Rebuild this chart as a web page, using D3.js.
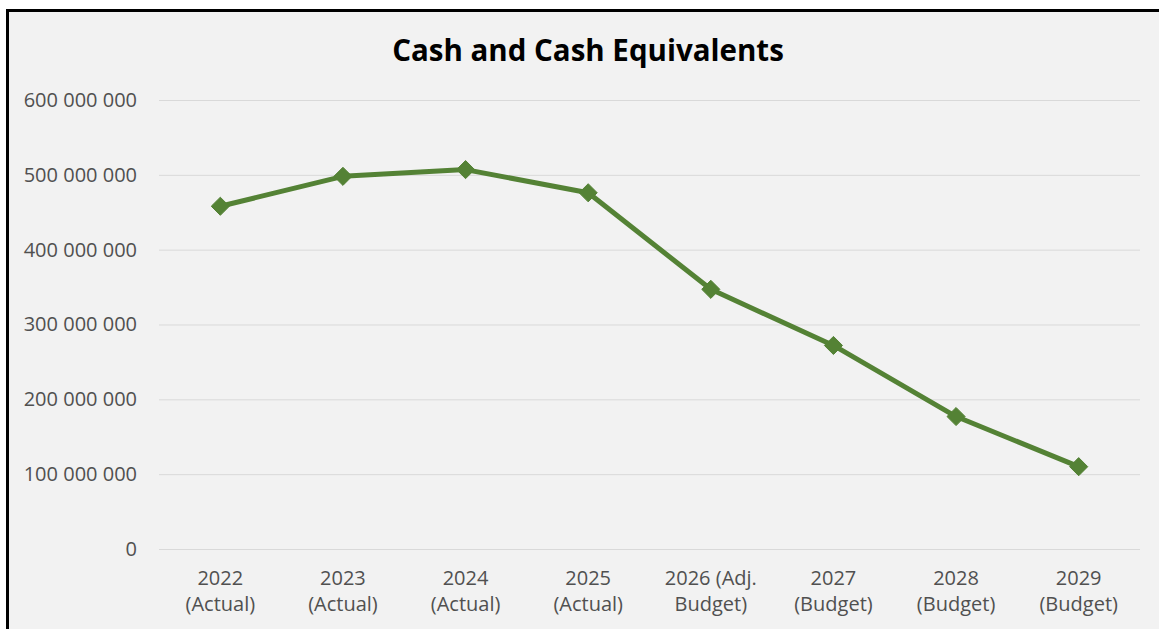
<!DOCTYPE html>
<html>
<head>
<meta charset="utf-8">
<script src="https://cdn.jsdelivr.net/npm/d3@7"></script>
<style>
  html, body { margin: 0; padding: 0; background: #ffffff; }
  svg { display: block; }
</style>
</head>
<body>
<svg id="chart" width="1159" height="629"></svg>
<script>
// Year labels (two lines each) and the cash position at year end
const categories = [
  ["2022", "(Actual)"],
  ["2023", "(Actual)"],
  ["2024", "(Actual)"],
  ["2025", "(Actual)"],
  ["2026 (Adj.", "Budget)"],
  ["2027", "(Budget)"],
  ["2028", "(Budget)"],
  ["2029", "(Budget)"]
];
const cashValues = [458000000, 498000000, 507000000, 476000000, 347000000, 272000000, 177000000, 110000000];
const yTicks = [0, 100000000, 200000000, 300000000, 400000000, 500000000, 600000000];
const title = "Cash and Cash Equivalents";

const svg = d3.select("#chart");
const W = 1159, H = 629;
const font = "'Open Sans', 'Liberation Sans', sans-serif";
const labelColor = "#505050";

// chart area with frame
svg.append("rect").attr("x", 7.5).attr("y", 10.5).attr("width", W).attr("height", H)
  .attr("fill", "#f2f2f2").attr("stroke", "#000").attr("stroke-width", 3);

const plot = { left: 159, right: 1140, top: 100, bottom: 549 };
const ids = categories.map((c, i) => i);

const x = d3.scaleBand().domain(ids).range([plot.left, plot.right]);
const y = d3.scaleLinear().domain([0, 600000000]).range([plot.bottom, plot.top]);

const fmt = v => d3.format(",")(v).replace(/,/g, " ");

// horizontal gridlines + value labels
const yAxis = d3.axisLeft(y).tickValues(yTicks).tickSize(-(plot.right - plot.left)).tickFormat(fmt).tickPadding(22);
const gy = svg.append("g").attr("transform", `translate(${plot.left},0)`).call(yAxis);
gy.select(".domain").remove();
gy.selectAll(".tick line").attr("stroke", "#d9d9d9").attr("stroke-width", 1);
gy.selectAll(".tick text").attr("fill", labelColor).style("font-family", font).style("font-size", "20px");

// category labels
const xAxis = d3.axisBottom(x).tickSize(0).tickFormat("");
const gx = svg.append("g").attr("transform", `translate(0,${plot.bottom})`).call(xAxis);
gx.select(".domain").remove();
gx.selectAll(".tick").each(function(d) {
  const t = d3.select(this).append("text")
    .attr("fill", labelColor).attr("text-anchor", "middle")
    .style("font-family", font).style("font-size", "20px");
  t.append("tspan").attr("x", 0).attr("y", 36).text(categories[d][0]);
  t.append("tspan").attr("x", 0).attr("y", 62).text(categories[d][1]);
});

// series line
const cx = i => x(i) + x.bandwidth() / 2;
const line = d3.line().x((d, i) => cx(i)).y(d => y(d));
svg.append("path").datum(cashValues).attr("d", line)
  .attr("fill", "none").attr("stroke", "#548235").attr("stroke-width", 5)
  .attr("stroke-linejoin", "round");

// diamond markers
svg.selectAll(".marker").data(cashValues).join("path")
  .attr("class", "marker")
  .attr("d", d3.symbol().type(d3.symbolDiamond2).size(210))
  .attr("transform", (d, i) => `translate(${cx(i)},${y(d)})`)
  .attr("fill", "#548235").attr("stroke", "#548235").attr("stroke-width", 1);

// title
svg.append("text").attr("x", 588).attr("y", 61).attr("text-anchor", "middle")
  .style("font-family", font).style("font-size", "29.5px").style("font-weight", "bold")
  .attr("fill", "#000").text(title);
</script>
</body>
</html>
